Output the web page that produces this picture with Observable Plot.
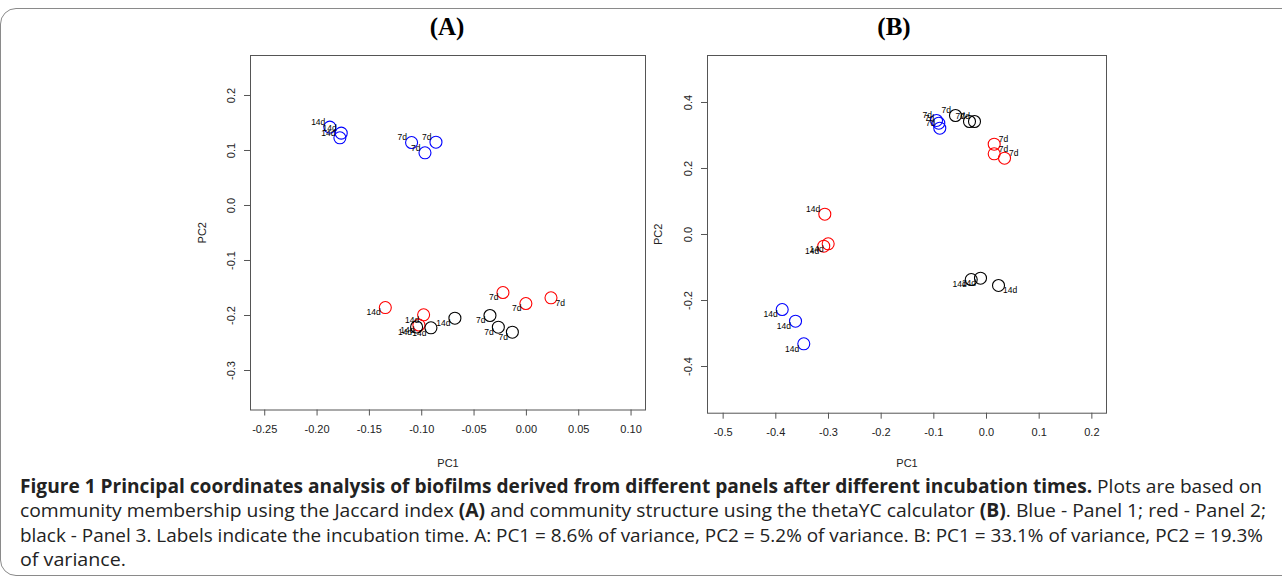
<!DOCTYPE html>
<html><head><meta charset="utf-8">
<script src="https://cdn.jsdelivr.net/npm/d3@7"></script>
<script src="https://cdn.jsdelivr.net/npm/@observablehq/plot@0.6"></script>
<style>
body{margin:0;background:#fff;}
#page{position:relative;width:1282px;height:587px;overflow:hidden;background:#fff;}
#border{position:absolute;left:0;top:8px;width:1320px;height:568px;border:1px solid #8a8a8a;border-radius:16px 0 0 16px;box-sizing:border-box;}
.panel{position:absolute;top:0;}
.ptitle{position:absolute;top:12px;font-family:"Liberation Serif","Times New Roman",serif;font-weight:bold;font-size:25px;line-height:30px;transform:translateX(-50%);white-space:nowrap;}
#caption{position:absolute;left:20px;top:474px;font-family:"Open Sans",sans-serif;font-size:19px;color:#222;}
#caption .ln{display:block;white-space:nowrap;height:24.4px;line-height:24.4px;transform-origin:0 50%;width:max-content;}
#caption b{font-weight:bold;}
</style>
</head><body>
<div id="page">
  <div id="border"></div>
  <div id="panelA" class="panel" style="left:0px"></div>
  <div id="panelB" class="panel" style="left:640px"></div>
  <div class="ptitle" style="left:447px">(A)</div>
  <div class="ptitle" style="left:894px">(B)</div>
  <div id="caption">
    <span class="ln" data-w="1242"><b>Figure 1 Principal coordinates analysis of biofilms derived from different panels after different incubation times.</b> Plots are based on</span>
    <span class="ln" data-w="1246">community membership using the Jaccard index <b>(A)</b> and community structure using the thetaYC calculator <b>(B)</b>. Blue - Panel 1; red - Panel 2;</span>
    <span class="ln" data-w="1243">black - Panel 3. Labels indicate the incubation time. A: PC1 = 8.6% of variance, PC2 = 5.2% of variance. B: PC1 = 33.1% of variance, PC2 = 19.3%</span>
    <span class="ln" data-w="106">of variance.</span>
  </div>
</div>
<script>
// ---------- Panel A: Jaccard (community membership) ----------
const aPC1   = [-0.1878, -0.1769, -0.1782, -0.1097, -0.0864, -0.0969,
                -0.1348, -0.0982, -0.1027, -0.0224, -0.0005,  0.0235,
                -0.1049, -0.0912, -0.0683, -0.0348, -0.0268, -0.0134];
const aPC2   = [ 0.1424,  0.1315,  0.1231,  0.1145,  0.1151,  0.0958,
                -0.1855, -0.1987, -0.2173, -0.1582, -0.1782, -0.1678,
                -0.2209, -0.2224, -0.2049, -0.2000, -0.2213, -0.2304];
const aPanel = ["Panel 1","Panel 1","Panel 1","Panel 1","Panel 1","Panel 1",
                "Panel 2","Panel 2","Panel 2","Panel 2","Panel 2","Panel 2",
                "Panel 3","Panel 3","Panel 3","Panel 3","Panel 3","Panel 3"];
const aTime  = ["14d","14d","14d","7d","7d","7d",
                "14d","14d","14d","7d","7d","7d",
                "14d","14d","14d","7d","7d","7d"];
const aXTicks = [-0.25, -0.20, -0.15, -0.10, -0.05, 0.00, 0.05, 0.10];
const aYTicks = [-0.3, -0.2, -0.1, 0.0, 0.1, 0.2];

// ---------- Panel B: thetaYC (community structure) ----------
const bPC1   = [-0.0949, -0.0906, -0.0887, -0.3879, -0.3626, -0.3469,
                 0.0146,  0.0146,  0.0342, -0.3070, -0.3006, -0.3090,
                -0.0589, -0.0323, -0.0228, -0.0290, -0.0114,  0.0228];
const bPC2   = [ 0.3455,  0.3373,  0.3221, -0.2273, -0.2627, -0.3312,
                 0.2736,  0.2445,  0.2312,  0.0615, -0.0282, -0.0355,
                 0.3606,  0.3424,  0.3424, -0.1364, -0.1324, -0.1545];
const bPanel = ["Panel 1","Panel 1","Panel 1","Panel 1","Panel 1","Panel 1",
                "Panel 2","Panel 2","Panel 2","Panel 2","Panel 2","Panel 2",
                "Panel 3","Panel 3","Panel 3","Panel 3","Panel 3","Panel 3"];
const bTime  = ["7d","7d","7d","14d","14d","14d",
                "7d","7d","7d","14d","14d","14d",
                "7d","7d","7d","14d","14d","14d"];
const bXTicks = [-0.5, -0.4, -0.3, -0.2, -0.1, 0.0, 0.1, 0.2];
const bYTicks = [-0.4, -0.2, 0.0, 0.2, 0.4];

const panelNames  = ["Panel 1", "Panel 2", "Panel 3"];
const panelColors = ["blue", "red", "black"];

function rows(pc1, pc2, panel, time) {
  return pc1.map((x, i) => ({pc1: x, pc2: pc2[i], panel: panel[i], time: time[i]}));
}

function labelMarks(data) {
  const quads = [
    {f: d => d.pc1 >= 0 && d.pc2 >= 0, a: "start", dx: 4.5, dy: -5},
    {f: d => d.pc1 >= 0 && d.pc2 < 0,  a: "start", dx: 4.5, dy: 5},
    {f: d => d.pc1 < 0 && d.pc2 >= 0,  a: "end",   dx: -4.5, dy: -5},
    {f: d => d.pc1 < 0 && d.pc2 < 0,   a: "end",   dx: -4.5, dy: 5}
  ];
  return quads.map(q => Plot.text(data.filter(q.f), {
    x: "pc1", y: "pc2", text: "time", textAnchor: q.a, dx: q.dx, dy: q.dy,
    fontSize: 8.5, fill: "black"
  }));
}

function panelPlot(data, o) {
  return Plot.plot({
    width: o.width, height: o.height,
    marginLeft: o.ml, marginRight: o.mr, marginTop: o.mt, marginBottom: o.mb,
    style: {fontFamily: "'Liberation Sans', Arial, sans-serif", fontSize: "11px", color: "#222", background: "transparent"},
    x: {domain: o.xd},
    y: {domain: o.yd},
    color: {domain: panelNames, range: panelColors},
    marks: [
      Plot.frame({stroke: "#555"}),
      Plot.axisX({ticks: o.xt, tickFormat: o.xf, tickSize: 6, tickPadding: 9, stroke: "#555",
                  label: "PC1", labelAnchor: "center", labelOffset: o.xlo, labelArrow: "none"}),
      Plot.axisY({ticks: o.yt, tickFormat: o.yf, tickSize: 6, tickPadding: 10, tickRotate: -90, stroke: "#555",
                  label: "PC2", labelAnchor: "center", labelOffset: o.ylo, labelArrow: "none"}),
      Plot.dot(data, {x: "pc1", y: "pc2", stroke: "panel", r: 6, strokeWidth: 1.1, fill: "none"}),
      ...labelMarks(data)
    ]
  });
}

const plotA = panelPlot(rows(aPC1, aPC2, aPanel, aTime), {
  width: 660, height: 475, ml: 250, mr: 15, mt: 55, mb: 65.5,
  xd: [-0.2636, 0.1138], yd: [-0.3718, 0.2727],
  xt: aXTicks, yt: aYTicks, xf: d => d.toFixed(2), yf: d => d.toFixed(1),
  xlo: 57, ylo: 52
});
document.getElementById("panelA").appendChild(plotA);

const plotB = panelPlot(rows(bPC1, bPC2, bPanel, bTime), {
  width: 480, height: 475, ml: 67, mr: 14, mt: 55, mb: 62.3,
  xd: [-0.5297, 0.2278], yd: [-0.5415, 0.5424],
  xt: bXTicks, yt: bYTicks, xf: d => d.toFixed(1), yf: d => d.toFixed(1),
  xlo: 54, ylo: 53
});
document.getElementById("panelB").appendChild(plotB);

// fit caption lines to the reference line widths
document.querySelectorAll("#caption .ln").forEach(el => {
  const w = el.getBoundingClientRect().width;
  const target = +el.dataset.w;
  el.style.transform = `scaleX(${target / w})`;
});
</script>
</body></html>
